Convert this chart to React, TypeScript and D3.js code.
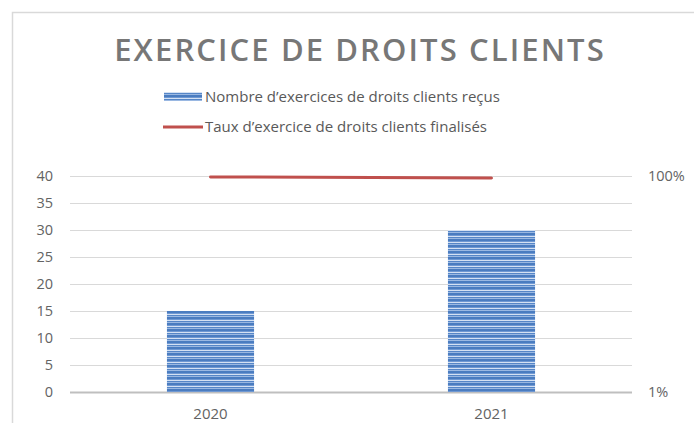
import React, { useRef, useEffect } from 'react';
import * as d3 from 'd3';

// Chart data
const categories = ['2020', '2021'];
const requestsReceived = [15, 30];
const completionRate = [0.98, 0.96];
const leftTicks = [0, 5, 10, 15, 20, 25, 30, 35, 40];
const rightTicks = [0.01, 1];
const seriesNames = [
  'Nombre d\u2019exercices de droits clients re\u00e7us',
  'Taux d\u2019exercice de droits clients finalis\u00e9s',
];

const App = () => {
  const svgRef = useRef<SVGSVGElement>(null);

  useEffect(() => {
    const width = 694;
    const height = 423;
    const plot = { left: 70, right: 632, top: 176, bottom: 392 };
    const font = '"Open Sans", "Liberation Sans", sans-serif';

    d3.select(svgRef.current).selectAll('*').remove();

    const svg = d3.select(svgRef.current)
      .attr('width', width)
      .attr('height', height);

    // Striped fill used by the bars
    const stripeColors = ['#4a7cc0', '#6f98d2', '#d4e1f3', '#5686c7', '#9ab8e2', '#4a7cc0'];
    const pattern = svg.append('defs').append('pattern')
      .attr('id', 'stripes')
      .attr('patternUnits', 'userSpaceOnUse')
      .attr('width', 8)
      .attr('height', stripeColors.length);
    pattern.selectAll('rect')
      .data(stripeColors)
      .join('rect')
      .attr('y', (d, i) => i)
      .attr('width', 8)
      .attr('height', 1)
      .attr('fill', d => d);

    svg.append('rect')
      .attr('width', width)
      .attr('height', height)
      .attr('fill', '#ffffff');

    // Chart frame (cut off at right and bottom)
    svg.append('rect')
      .attr('x', 12.5)
      .attr('y', 12.5)
      .attr('width', width + 20)
      .attr('height', height + 20)
      .attr('fill', 'none')
      .attr('stroke', '#d9d9d9')
      .attr('stroke-width', 1.5);

    // Title
    svg.append('text')
      .attr('x', 360)
      .attr('y', 61)
      .attr('text-anchor', 'middle')
      .attr('font-family', font)
      .attr('font-size', '31px')
      .attr('font-weight', 600)
      .attr('fill', '#777777')
      .attr('letter-spacing', '2.1px')
      .text('EXERCICE DE DROITS CLIENTS');

    // Scales
    const x = d3.scaleBand()
      .domain(categories)
      .range([plot.left, plot.right]);
    const barWidth = x.bandwidth() * 0.31;

    const yLeft = d3.scaleLinear()
      .domain([0, 40])
      .range([plot.bottom, plot.top]);

    const yRight = d3.scaleLog()
      .domain([0.01, 1])
      .range([plot.bottom, plot.top]);

    // Gridlines
    svg.append('g')
      .selectAll('line')
      .data(leftTicks)
      .join('line')
      .attr('x1', plot.left)
      .attr('x2', plot.right)
      .attr('y1', d => Math.round(yLeft(d)) + 0.5)
      .attr('y2', d => Math.round(yLeft(d)) + 0.5)
      .attr('stroke', d => (d === 0 ? '#bfbfbf' : '#d9d9d9'))
      .attr('stroke-width', d => (d === 0 ? 2 : 1.2));

    // Left axis labels
    svg.append('g')
      .selectAll('text')
      .data(leftTicks)
      .join('text')
      .attr('x', 53)
      .attr('y', d => yLeft(d))
      .attr('dy', '0.35em')
      .attr('text-anchor', 'end')
      .attr('font-family', font)
      .attr('font-size', '14.5px')
      .attr('fill', '#636363')
      .text(d => d);

    // Right axis labels
    svg.append('g')
      .selectAll('text')
      .data(rightTicks)
      .join('text')
      .attr('x', 648)
      .attr('y', d => yRight(d))
      .attr('dy', '0.35em')
      .attr('text-anchor', 'start')
      .attr('font-family', font)
      .attr('font-size', '14.5px')
      .attr('fill', '#636363')
      .text(d => d3.format('.0%')(d));

    // Category labels
    svg.append('g')
      .selectAll('text')
      .data(categories)
      .join('text')
      .attr('x', d => (x(d) as number) + x.bandwidth() / 2)
      .attr('y', 419)
      .attr('text-anchor', 'middle')
      .attr('font-family', font)
      .attr('font-size', '15px')
      .attr('fill', '#636363')
      .text(d => d);

    // Bars
    svg.append('g')
      .selectAll('rect')
      .data(requestsReceived)
      .join('rect')
      .attr('x', (d, i) => (x(categories[i]) as number) + x.bandwidth() / 2 - barWidth / 2)
      .attr('y', d => yLeft(d))
      .attr('width', barWidth)
      .attr('height', d => plot.bottom - yLeft(d))
      .attr('fill', 'url(#stripes)');

    // Completion rate line
    const line = d3.line<number>()
      .x((d, i) => (x(categories[i]) as number) + x.bandwidth() / 2)
      .y(d => yRight(d));

    svg.append('path')
      .datum(completionRate)
      .attr('d', line)
      .attr('fill', 'none')
      .attr('stroke', '#c0504d')
      .attr('stroke-width', 3)
      .attr('stroke-linecap', 'round');

    // Legend
    const legend = svg.append('g').attr('font-family', font);
    legend.append('rect')
      .attr('x', 164)
      .attr('y', 92)
      .attr('width', 38)
      .attr('height', 9)
      .attr('fill', 'url(#stripes)');
    legend.append('line')
      .attr('x1', 163)
      .attr('x2', 203)
      .attr('y1', 127)
      .attr('y2', 127)
      .attr('stroke', '#c0504d')
      .attr('stroke-width', 3);
    legend.selectAll('text')
      .data(seriesNames)
      .join('text')
      .attr('x', 205)
      .attr('y', (d, i) => 97 + i * 30)
      .attr('dy', '0.35em')
      .attr('font-size', '15px')
      .attr('fill', '#595959')
      .text(d => d);
  }, []);

  return (
    <svg ref={svgRef} style={{ position: 'fixed', left: 0, top: 0 }}></svg>
  );
};

export default App;
